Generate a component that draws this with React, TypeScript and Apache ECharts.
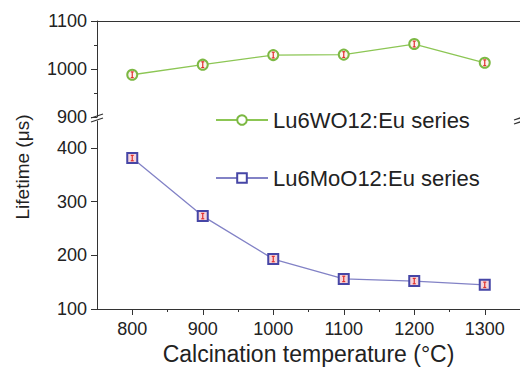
import React, { useEffect, useRef } from "react";
import * as echarts from "echarts";

const temperatures = [800, 900, 1000, 1100, 1200, 1300];
const wLifetime = [988, 1009, 1029, 1030, 1052, 1013];
const moLifetime = [381, 273, 193, 156, 152, 145];
const wError = [6, 6, 6, 6, 6, 6];
const moError = [5, 5, 5, 5, 5, 5];
const xMajorTicks = [800, 900, 1000, 1100, 1200, 1300];
const xMinorTicks = [850, 950, 1050, 1150, 1250];
const yLowMajor = [100, 200, 300, 400];
const yLowMinor = [150, 250, 350];
const seriesNames = ["Lu6WO12:Eu series", "Lu6MoO12:Eu series"];

const FONT = "'Liberation Sans', Arial, sans-serif";
const AXIS = "#333";
const GREEN = "#7cb843";
const GREEN_LINE = "#8cc654";
const BLUE = "#4646a6";
const BLUE_LINE = "#8282c6";
const RED = "#e0302c";

function errorRender(params: any, api: any) {
  const x = api.value(0);
  const y = api.value(1);
  const e = api.value(2);
  const top = api.coord([x, y + e]);
  const bot = api.coord([x, y - e]);
  const st = { stroke: RED, lineWidth: 1.2 };
  return {
    type: "group",
    children: [
      { type: "line", shape: { x1: top[0], y1: top[1], x2: bot[0], y2: bot[1] }, style: st },
      { type: "line", shape: { x1: top[0] - 1.5, y1: top[1], x2: top[0] + 1.5, y2: top[1] }, style: st },
      { type: "line", shape: { x1: bot[0] - 1.5, y1: bot[1], x2: bot[0] + 1.5, y2: bot[1] }, style: st },
    ],
  };
}

export default function App() {
  const ref = useRef<HTMLDivElement>(null);
  useEffect(() => {
    if (!ref.current) return;
    const chart = echarts.init(ref.current, null, { renderer: "svg" });
    const wData = temperatures.map((t, i) => [t, wLifetime[i]]);
    const moData = temperatures.map((t, i) => [t, moLifetime[i]]);
    const wErr = temperatures.map((t, i) => [t, wLifetime[i], wError[i]]);
    const moErr = temperatures.map((t, i) => [t, moLifetime[i], moError[i]]);
    const plain = (v: number) => String(v);
    const label = { color: "#222", fontSize: 18, fontFamily: FONT, formatter: plain };
    const breakLine = (x1: number, y1: number, x2: number, y2: number) => ({
      type: "line",
      shape: { x1, y1, x2, y2 },
      style: { stroke: "#333", lineWidth: 1.2 },
      z: 100,
    });
    chart.setOption({
      animation: false,
      backgroundColor: "#fff",
      grid: [
        { left: 97, top: 21, width: 427, height: 96 },
        { left: 97, top: 121, width: 427, height: 188 },
      ],
      xAxis: [
        {
          gridIndex: 0, type: "value", min: 750, max: 1350, position: "top",
          axisLine: { show: true, lineStyle: { color: AXIS } },
          axisTick: { show: false }, axisLabel: { show: false }, splitLine: { show: false },
        },
        {
          gridIndex: 1, type: "value", min: 750, max: 1350, position: "bottom",
          axisLine: { show: true, onZero: false, lineStyle: { color: AXIS } },
          axisTick: { show: true, inside: false, length: 6, customValues: xMajorTicks, lineStyle: { color: AXIS } },
          axisLabel: { show: true, customValues: xMajorTicks, margin: 11, ...label },
          splitLine: { show: false },
          name: "Calcination temperature (°C)",
          nameLocation: "middle",
          nameGap: 31,
          nameTextStyle: { color: "#222", fontSize: 23, fontFamily: FONT },
        },
        {
          gridIndex: 1, type: "value", min: 750, max: 1350, position: "bottom",
          axisLine: { show: false },
          axisTick: { show: true, inside: false, length: 3, customValues: xMinorTicks, lineStyle: { color: AXIS } },
          axisLabel: { show: false }, splitLine: { show: false },
        },
      ],
      yAxis: [
        {
          gridIndex: 0, type: "value", min: 900, max: 1100, interval: 100,
          axisLine: { show: true, lineStyle: { color: AXIS } },
          axisTick: { show: true, length: 6, lineStyle: { color: AXIS } },
          minorTick: { show: true, splitNumber: 2, length: 3, lineStyle: { color: AXIS } },
          axisLabel: { margin: 10, ...label },
          splitLine: { show: false },
        },
        {
          gridIndex: 1, type: "value", min: 100, max: 450,
          axisLine: { show: true, onZero: false, lineStyle: { color: AXIS } },
          axisTick: { show: true, length: 6, customValues: yLowMajor, lineStyle: { color: AXIS } },
          axisLabel: { margin: 10, customValues: yLowMajor, ...label },
          splitLine: { show: false },
        },
        {
          gridIndex: 1, type: "value", min: 100, max: 450,
          axisLine: { show: false },
          axisTick: { show: true, length: 3, customValues: yLowMinor, lineStyle: { color: AXIS } },
          axisLabel: { show: false }, splitLine: { show: false },
        },
      ],
      legend: {
        orient: "vertical",
        left: 210,
        top: 103,
        itemWidth: 52,
        itemHeight: 12,
        itemGap: 34,
        data: [
          { name: seriesNames[0], itemStyle: { color: "#fff" } },
          { name: seriesNames[1], itemStyle: { color: "#fff" } },
        ],
        textStyle: { color: "#222", fontSize: 22, fontFamily: FONT, lineHeight: 24 },
      },
      series: [
        {
          name: seriesNames[0], type: "line", xAxisIndex: 0, yAxisIndex: 0, data: wData,
          symbol: "circle", symbolSize: 10,
          lineStyle: { color: GREEN_LINE, width: 1.3 },
          itemStyle: { color: "#fdf3ee", borderColor: GREEN, borderWidth: 2 },
          z: 3,
        },
        {
          name: seriesNames[1], type: "line", xAxisIndex: 1, yAxisIndex: 1, data: moData,
          symbol: "rect", symbolSize: 10,
          lineStyle: { color: BLUE_LINE, width: 1.3 },
          itemStyle: { color: "#f6d4da", borderColor: BLUE, borderWidth: 2 },
          z: 3,
        },
        {
          type: "custom", xAxisIndex: 0, yAxisIndex: 0, data: wErr,
          renderItem: errorRender, z: 5, silent: true,
        },
        {
          type: "custom", xAxisIndex: 1, yAxisIndex: 1, data: moErr,
          renderItem: errorRender, z: 5, silent: true,
        },
      ],
      graphic: [
        {
          type: "text", x: 22, y: 167, rotation: Math.PI / 2,
          style: {
            text: "Lifetime (μs)", fill: "#222", fontSize: 19, fontFamily: FONT,
            textAlign: "center", textVerticalAlign: "middle",
          },
        },
        breakLine(91, 118, 103, 114),
        breakLine(91, 122, 103, 118),
        breakLine(514, 120, 526, 116),
        breakLine(514, 124, 526, 120),
      ],
    });
    return () => chart.dispose();
  }, []);
  return (
    <div
      ref={ref}
      style={{ position: "fixed", left: 0, top: 0, width: 520, height: 375 }}
    />
  );
}
